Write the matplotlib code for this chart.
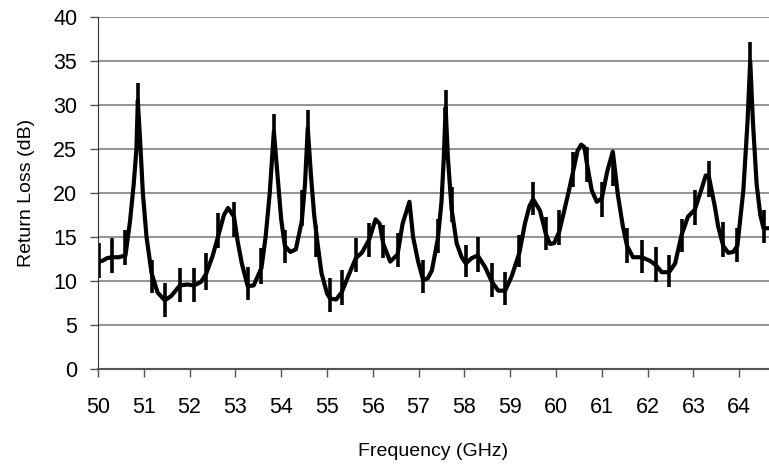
import matplotlib
matplotlib.use('Agg')
import matplotlib.pyplot as plt

plt.rcParams['font.family'] = ['Liberation Sans', 'DejaVu Sans']

# measured return loss curve
freq = [50.00, 50.10, 50.20, 50.31, 50.45, 50.60, 50.70, 50.78, 50.84, 50.87,
        50.92, 50.98, 51.06, 51.17, 51.30, 51.46, 51.60, 51.79, 51.95, 52.10,
        52.25, 52.36, 52.50, 52.63, 52.75, 52.84, 52.97, 53.05, 53.14, 53.27,
        53.40, 53.57, 53.66, 53.75, 53.84, 53.92, 54.00, 54.08, 54.20, 54.32,
        54.45, 54.52, 54.58, 54.65, 54.72, 54.80, 54.88, 55.00, 55.07, 55.20,
        55.32, 55.46, 55.63, 55.76, 55.92, 56.06, 56.15, 56.23, 56.38, 56.54,
        56.65, 56.80, 56.88, 56.99, 57.10, 57.20, 57.29, 57.42, 57.50, 57.55,
        57.59, 57.64, 57.72, 57.83, 57.94, 58.03, 58.16, 58.29, 58.45, 58.60,
        58.74, 58.89, 59.03, 59.20, 59.32, 59.42, 59.50, 59.65, 59.78, 59.87,
        59.96, 60.07, 60.18, 60.27, 60.38, 60.47, 60.55, 60.62, 60.67, 60.78,
        60.89, 61.00, 61.12, 61.24, 61.35, 61.46, 61.55, 61.68, 61.87, 62.05,
        62.18, 62.31, 62.47, 62.60, 62.74, 62.88, 63.03, 63.18, 63.27, 63.34,
        63.47, 63.54, 63.65, 63.76, 63.87, 63.96, 64.09, 64.18, 64.24, 64.30,
        64.38, 64.46, 64.53, 64.65]
rl_db = [12.2, 12.3, 12.6, 12.7, 12.7, 12.9, 16.8, 21.0, 25.0, 30.5,
         26.0, 20.0, 15.0, 10.9, 8.7, 7.8, 8.3, 9.5, 9.6, 9.5,
         9.9, 10.8, 12.8, 15.2, 17.5, 18.3, 17.3, 14.5, 12.0, 9.4,
         9.5, 11.5, 15.0, 20.0, 27.0, 22.0, 17.0, 14.0, 13.3, 13.6,
         16.8, 21.0, 27.4, 22.0, 17.5, 14.0, 10.9, 8.6, 8.0, 7.9,
         8.7, 10.5, 12.6, 13.2, 14.7, 17.0, 16.5, 14.2, 12.2, 13.0,
         16.5, 19.0, 15.0, 12.2, 10.1, 10.3, 11.2, 14.8, 19.0, 24.0,
         29.7, 24.0, 18.2, 14.3, 12.7, 12.0, 12.6, 12.9, 11.6, 9.9,
         8.9, 8.9, 10.5, 13.2, 16.5, 18.5, 19.3, 18.0, 15.3, 14.2,
         14.3, 15.6, 18.0, 20.0, 22.6, 24.8, 25.5, 25.2, 23.5, 20.3,
         19.0, 19.4, 22.5, 24.7, 19.8, 16.2, 14.0, 12.7, 12.7, 12.3,
         11.8, 11.0, 11.0, 12.0, 15.2, 17.3, 18.1, 20.5, 22.0, 21.8,
         18.4, 16.2, 14.0, 13.2, 13.3, 14.0, 20.3, 28.0, 35.0, 28.0,
         21.0, 17.5, 16.0, 16.0]

# error bar ranges
err_freq = [50.02, 50.31, 50.60, 50.87, 51.17, 51.46, 51.79, 52.10, 52.36, 52.63,
            52.97, 53.27, 53.57, 53.84, 54.08, 54.45, 54.58, 54.76, 55.07, 55.32,
            55.63, 55.92, 56.23, 56.54, 57.10, 57.42, 57.59, 57.72, 58.03, 58.29,
            58.60, 58.89, 59.20, 59.50, 59.78, 60.07, 60.38, 60.67, 61.00, 61.24,
            61.55, 61.87, 62.18, 62.47, 62.74, 63.03, 63.34, 63.65, 63.96, 64.24,
            64.53]
err_lo = [10.3, 10.9, 11.8, 28.5, 8.6, 5.9, 7.6, 7.6, 9.0, 13.7,
          15.0, 7.8, 9.7, 25.0, 12.0, 16.2, 25.4, 12.7, 6.5, 7.3,
          11.0, 12.7, 12.6, 11.6, 8.6, 13.2, 27.7, 16.7, 10.5, 11.0,
          8.2, 7.3, 11.6, 17.5, 13.5, 14.1, 20.7, 21.3, 17.3, 20.8,
          12.0, 10.9, 9.9, 9.3, 13.3, 16.4, 19.6, 12.7, 12.2, 33.2,
          14.3]
err_hi = [14.3, 14.9, 15.8, 32.5, 12.4, 9.8, 11.5, 11.5, 13.2, 17.7,
          19.0, 11.6, 13.7, 29.0, 15.8, 20.3, 29.4, 16.4, 10.3, 11.3,
          14.9, 16.6, 16.4, 15.4, 12.4, 17.1, 31.7, 20.7, 14.1, 15.0,
          12.0, 11.0, 15.2, 21.3, 17.3, 18.1, 24.7, 25.2, 21.3, 24.7,
          16.0, 14.7, 13.9, 13.0, 17.1, 20.3, 23.6, 16.7, 16.0, 37.2,
          18.1]

fig = plt.figure(figsize=(7.69, 4.65), dpi=100)
ax = fig.add_axes([0.1274, 0.2065, 0.8726, 0.7569])

ax.plot(freq, rl_db, color='black', linewidth=3.0, solid_joinstyle='round')
ax.vlines(err_freq, err_lo, err_hi, color='black', linewidth=2.6)

ax.set_xlim(50, 64.65)
ax.set_ylim(0, 40)
ax.set_xticks(range(50, 65))
ax.set_yticks(range(0, 41, 5))
ax.yaxis.grid(True, color='#808080', linewidth=1.2)
ax.set_axisbelow(True)

for side in ['top', 'right']:
    ax.spines[side].set_visible(False)
ax.spines['left'].set_color('#333333')
ax.spines['bottom'].set_color('#555555')
ax.spines['bottom'].set_linewidth(1.5)

ax.tick_params(axis='x', direction='out', length=6, width=1, color='#555555',
               pad=14, labelsize=15.5)
ax.tick_params(axis='y', direction='out', length=6, width=1, color='#555555',
               pad=9, labelsize=15.5)

ax.set_xlabel('Frequency (GHz)', fontsize=14, labelpad=18)
ax.set_ylabel('Return Loss (dB)', fontsize=14, labelpad=13)

plt.savefig('out.png', dpi=100)
